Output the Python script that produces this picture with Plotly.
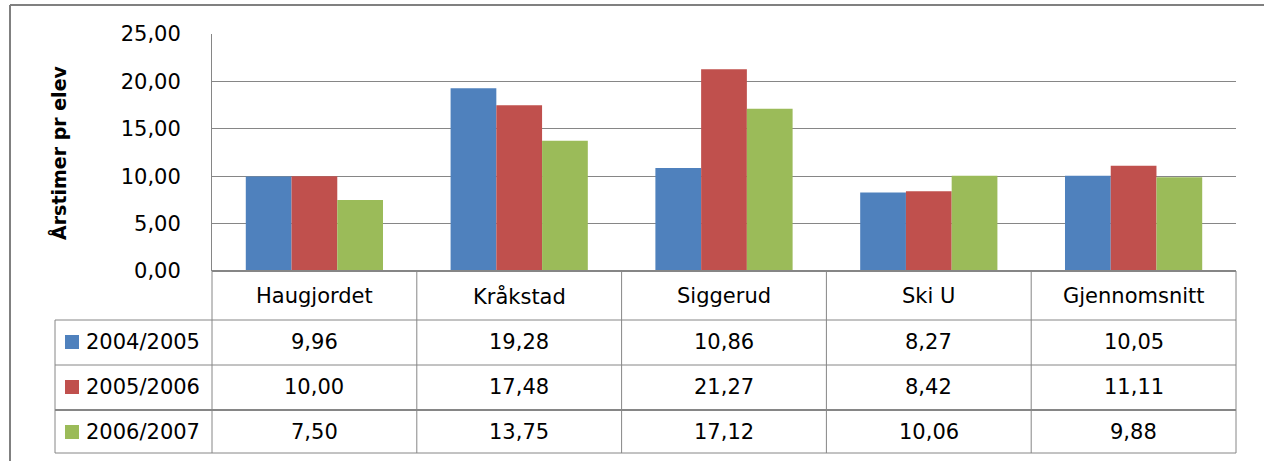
import plotly.graph_objects as go

categories = ["Haugjordet", "Kråkstad", "Siggerud", "Ski U", "Gjennomsnitt"]
series_names = ["2004/2005", "2005/2006", "2006/2007"]
v2004 = [9.96, 19.28, 10.86, 8.27, 10.05]
v2005 = [10.00, 17.48, 21.27, 8.42, 11.11]
v2006 = [7.50, 13.75, 17.12, 10.06, 9.88]
colors = ["#4F81BD", "#C0504D", "#9BBB59"]
y_ticks = [0, 5, 10, 15, 20, 25]
y_title = "Årstimer pr elev"

W, H = 1264, 461
L, R, T, B = 212, 28, 34, 190
PW = W - L - R
PH = H - T - B
FONT = "DejaVu Sans"
GRID = "#868686"


def py(p):
    return (H - B - p) / PH


def px(p):
    return (p - L) / PW


series = [v2004, v2005, v2006]
fig = go.Figure()
for name, vals, col in zip(series_names, series, colors):
    fig.add_trace(go.Bar(x=categories, y=vals, name=name, marker=dict(color=col, line=dict(width=0))))

n = len(categories)
shapes = []
line = dict(color=GRID, width=1)
# vertical column borders of the data table
for i in range(n + 1):
    xb = i / n
    shapes.append(dict(type="line", xref="paper", yref="paper", x0=xb, x1=xb, y0=py(271), y1=py(453), line=line))
# horizontal row borders
for yy, wd in [(320, 1), (365, 1), (410, 2), (453, 1)]:
    shapes.append(dict(type="line", xref="paper", yref="paper", x0=px(55), x1=1, y0=py(yy), y1=py(yy),
                       line=dict(color=GRID, width=wd)))
shapes.append(dict(type="line", xref="paper", yref="paper", x0=0, x1=1, y0=py(271), y1=py(271),
                   line=dict(color=GRID, width=2)))
shapes.append(dict(type="line", xref="paper", yref="paper", x0=px(55), x1=px(55), y0=py(320), y1=py(453), line=line))
# outer frame
shapes.append(dict(type="line", xref="paper", yref="paper", x0=px(10), x1=px(1264), y0=py(5), y1=py(5),
                   line=dict(color="#808080", width=2)))
shapes.append(dict(type="line", xref="paper", yref="paper", x0=px(10), x1=px(10), y0=py(5), y1=py(461),
                   line=dict(color="#808080", width=2)))

# legend keys in the table
row_centers = [342, 387, 432]
for rc, col in zip(row_centers, colors):
    shapes.append(dict(type="rect", xref="paper", yref="paper", x0=px(65), x1=px(79), y0=py(rc + 7), y1=py(rc - 7),
                       fillcolor=col, line=dict(width=0)))

annotations = []
tf = dict(family=FONT, size=21, color="#000000")
for c in categories:
    annotations.append(dict(x=c, xref="x", y=py(296), yref="paper", text=c, showarrow=False, font=tf,
                            xanchor="center", yanchor="middle"))
for rc, name, vals in zip(row_centers, series_names, series):
    annotations.append(dict(x=px(84), xref="paper", y=py(rc), yref="paper", text=name, showarrow=False, font=tf,
                            xanchor="left", yanchor="middle"))
    for c, v in zip(categories, vals):
        annotations.append(dict(x=c, xref="x", y=py(rc), yref="paper", text=f"{v:.2f}".replace(".", ","),
                                showarrow=False, font=tf, xanchor="center", yanchor="middle"))
annotations.append(dict(x=px(58), xref="paper", y=py(153), yref="paper", text=f"<b>{y_title}</b>", textangle=-90,
                        showarrow=False, font=dict(family=FONT, size=19, color="#000000"),
                        xanchor="center", yanchor="middle"))

fig.update_layout(
    width=W, height=H,
    margin=dict(l=L, r=R, t=T, b=B, pad=0),
    paper_bgcolor="white", plot_bgcolor="white",
    barmode="group", bargap=0.33, bargroupgap=0,
    showlegend=False,
    separators=",.",
    font=dict(family=FONT, size=21, color="#000000"),
    shapes=shapes, annotations=annotations,
    xaxis=dict(showticklabels=False, showgrid=False, showline=False, zeroline=False, ticks="",
               range=[-0.5, n - 0.5], fixedrange=True),
    yaxis=dict(range=[0, 25], tickvals=y_ticks, tickformat=".2f", showgrid=True, gridcolor=GRID, gridwidth=1,
               showline=True, linecolor=GRID, linewidth=1, zeroline=False, ticks="",
               ticklabelstandoff=26, tickfont=dict(family=FONT, size=21, color="#000000"), fixedrange=True),
)
fig.write_html("out.html", config={"displayModeBar": False},
               post_script="document.body.style.margin='0';document.body.style.overflow='hidden';")
